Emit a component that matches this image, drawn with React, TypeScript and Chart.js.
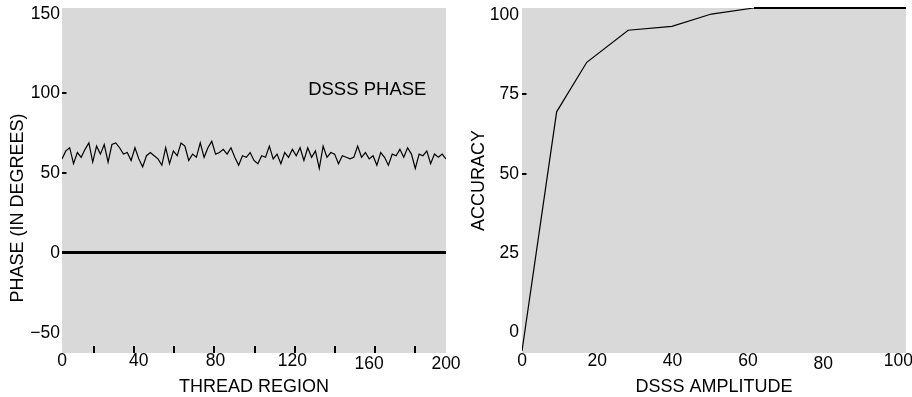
import { useEffect, useRef } from "react";
import { Chart, registerables } from "chart.js";

Chart.register(...registerables);

// ---------- data ----------
// left panel: DSSS phase (degrees) over thread region, sampled every 2 units
const threadStep = 2;
const phaseValues = [
  59, 64, 66, 56, 63, 60, 65, 69, 57, 67,
  62, 68, 57, 68, 69, 66, 62, 63, 58, 66,
  59, 54, 61, 63, 61, 59, 55, 66, 56, 64,
  61, 69, 67, 58, 62, 60, 69, 60, 66, 70,
  62, 63, 65, 62, 66, 60, 55, 61, 60, 63,
  58, 56, 61, 60, 67, 59, 62, 56, 63, 60,
  65, 61, 66, 58, 66, 60, 64, 53, 67, 60,
  63, 62, 56, 61, 60, 59, 60, 67, 60, 63,
  59, 61, 55, 63, 60, 55, 62, 61, 65, 60,
  66, 62, 53, 62, 61, 64, 56, 62, 60, 62,
  59,
];
const phaseMarkValues = [50, 100];
const regionMarkValues = [20, 40, 60, 80, 100, 120, 140, 160, 180];
const phaseLabel = { text: "DSSS PHASE", x: 159, y: 102 };

// right panel: accuracy vs DSSS amplitude
const amplitude = [0, 9.2, 17.2, 28.2, 39.8, 50.3, 61.6, 102];
const accuracy = [-5.8, 69.5, 85.1, 95.2, 96.4, 100.3, 102.2, 102.2];
const accuracyMarkValues = [50, 75];

// ---------- style ----------
const FONT = "'Liberation Sans', Arial, Helvetica, sans-serif";
const GREY = "#d9d9d9";
const INK = "#000000";
const TICK_SIZE = 17.5;
const TITLE_SIZE = 18;

Chart.defaults.font.family = FONT;
Chart.defaults.color = INK;

const minusFmt = (v: number) => (v < 0 ? "\u2212" + Math.abs(v) : String(v));

const plotBackground = {
  id: "plotBackground",
  beforeDraw(chart: any) {
    const { ctx, chartArea } = chart;
    ctx.save();
    ctx.fillStyle = GREY;
    ctx.fillRect(chartArea.left, chartArea.top, chartArea.width, chartArea.height);
    ctx.restore();
  },
};

const innerTicks = {
  id: "innerTicks",
  afterDatasetsDraw(chart: any, _args: any, opts: any) {
    const { ctx, chartArea } = chart;
    ctx.save();
    ctx.strokeStyle = INK;
    if (opts.x) {
      const s = chart.scales[opts.x.scale];
      ctx.lineWidth = opts.x.width;
      for (const v of opts.x.values) {
        const px = Math.round(s.getPixelForValue(v)) + 0.0;
        ctx.beginPath();
        ctx.moveTo(px, chartArea.bottom);
        ctx.lineTo(px, chartArea.bottom - opts.x.length);
        ctx.stroke();
      }
    }
    if (opts.y) {
      const s = chart.scales[opts.y.scale];
      ctx.lineWidth = opts.y.width;
      for (const v of opts.y.values) {
        const py = Math.round(s.getPixelForValue(v));
        ctx.beginPath();
        ctx.moveTo(chartArea.left, py);
        ctx.lineTo(chartArea.left + opts.y.length, py);
        ctx.stroke();
      }
    }
    ctx.restore();
  },
};

const textNotes = {
  id: "textNotes",
  afterDatasetsDraw(chart: any, _args: any, opts: any) {
    const { ctx, chartArea } = chart;
    ctx.save();
    ctx.fillStyle = INK;
    if (opts.note) {
      const n = opts.note;
      ctx.font = `${n.size}px ${FONT}`;
      ctx.textAlign = "center";
      ctx.textBaseline = "middle";
      ctx.fillText(n.text, chart.scales.x.getPixelForValue(n.x), chart.scales.y.getPixelForValue(n.y));
    }
    if (opts.yTitle) {
      const t = opts.yTitle;
      ctx.font = `${t.size}px ${FONT}`;
      ctx.translate(t.x, (chartArea.top + chartArea.bottom) / 2 + t.shift);
      ctx.rotate(-Math.PI / 2);
      ctx.textAlign = "center";
      ctx.textBaseline = "middle";
      ctx.fillText(t.text, 0, 0);
    }
    ctx.restore();
  },
};

const fitY = (w: number) => (s: any) => {
  s.width = w;
  s.paddingTop = 0;
  s.paddingBottom = 0;
};
const fitX = (h: number) => (s: any) => {
  s.height = h;
  s.paddingLeft = 0;
  s.paddingRight = 0;
};
const tickFont = (lowered: number[]) => (ctx: any) => ({
  family: FONT,
  size: TICK_SIZE,
  lineHeight: ctx && ctx.tick && lowered.includes(ctx.tick.value) ? 1.5 : 1.2,
});

function leftConfig(): any {
  const pts = phaseValues.map((v, i) => ({ x: i * threadStep, y: v }));
  return {
    type: "line",
    data: {
      datasets: [
        {
          data: pts,
          xAxisID: "x",
          yAxisID: "y",
          borderColor: INK,
          borderWidth: 1.2,
          pointRadius: 0,
          tension: 0,
          fill: false,
        },
      ],
    },
    options: {
      animation: false,
      responsive: false,
      layout: { padding: { top: 8, right: 24, left: 0, bottom: 0 } },
      plugins: {
        legend: { display: false },
        tooltip: { enabled: false },
        innerTicks: {
          x: { scale: "xt", values: regionMarkValues, length: 7, width: 2 },
          y: { scale: "y", values: phaseMarkValues, length: 4.5, width: 2 },
        },
        textNotes: {
          note: { ...phaseLabel, size: 18.5 },
          yTitle: { text: "PHASE (IN DEGREES)", size: TITLE_SIZE, x: 18.5, shift: 27.5 },
        },
      },
      scales: {
        x: {
          type: "linear",
          min: 0,
          max: 200,
          grid: { display: false, drawTicks: false },
          border: { display: false },
          ticks: {
            stepSize: 40,
            includeBounds: false,
            padding: -2,
            color: INK,
            maxRotation: 0,
            autoSkip: false,
            font: tickFont([160, 200]),
          },
          title: {
            display: true,
            text: "THREAD REGION",
            color: INK,
            font: { family: FONT, size: TITLE_SIZE },
            padding: { top: 0, bottom: -1 },
          },
          afterFit: fitX(44),
        },
        y: {
          type: "linear",
          min: -62.7,
          max: 153.6,
          grid: {
            display: true,
            drawTicks: false,
            color: (c: any) => (c.tick && c.tick.value === 0 ? INK : "rgba(0,0,0,0)"),
            lineWidth: (c: any) => (c.tick && c.tick.value === 0 ? 3 : 0),
          },
          border: { display: false },
          ticks: {
            stepSize: 50,
            includeBounds: false,
            padding: 2,
            color: INK,
            font: { family: FONT, size: TICK_SIZE },
            callback: (v: number) => minusFmt(v),
          },
          afterFit: fitY(62),
        },
        xt: {
          type: "linear",
          display: false,
          min: 4,
          max: 195.5,
        },
      },
    },
    plugins: [plotBackground, innerTicks, textNotes],
  };
}

function rightConfig(): any {
  const pts = amplitude.map((a, i) => ({ x: a, y: accuracy[i] }));
  const top = Math.max(...accuracy);
  const capped = pts.filter((p) => p.y >= top);
  return {
    type: "line",
    data: {
      datasets: [
        {
          data: pts,
          xAxisID: "x",
          yAxisID: "y",
          borderColor: INK,
          borderWidth: 1.2,
          pointRadius: 0,
          tension: 0,
          fill: false,
        },
        {
          data: capped,
          xAxisID: "x",
          yAxisID: "y",
          borderColor: INK,
          borderWidth: 2.2,
          pointRadius: 0,
          tension: 0,
          fill: false,
          clip: false,
        },
      ],
    },
    options: {
      animation: false,
      responsive: false,
      layout: { padding: { top: 8, right: 6, left: 0, bottom: 0 } },
      plugins: {
        legend: { display: false },
        tooltip: { enabled: false },
        innerTicks: {
          y: { scale: "y", values: accuracyMarkValues, length: 4.5, width: 2 },
        },
      },
      scales: {
        x: {
          type: "linear",
          min: 0,
          max: 102,
          grid: { display: false, drawTicks: false },
          border: { display: false },
          ticks: {
            stepSize: 20,
            includeBounds: false,
            padding: -2,
            color: INK,
            maxRotation: 0,
            autoSkip: false,
            font: tickFont([80]),
          },
          title: {
            display: true,
            text: "DSSS AMPLITUDE",
            color: INK,
            font: { family: FONT, size: TITLE_SIZE },
            padding: { top: 0, bottom: -1 },
          },
          afterFit: fitX(44),
        },
        y: {
          type: "linear",
          min: -6.46,
          max: top,
          grid: { display: false, drawTicks: false },
          border: { display: false },
          ticks: {
            stepSize: 25,
            includeBounds: false,
            padding: 3,
            color: INK,
            font: { family: FONT, size: TICK_SIZE },
            callback: (v: number) => minusFmt(v),
          },
          title: {
            display: true,
            text: "ACCURACY",
            color: INK,
            font: { family: FONT, size: TITLE_SIZE },
            padding: { top: 8, bottom: 0 },
          },
          afterFit: fitY(62),
        },
      },
    },
    plugins: [plotBackground, innerTicks, textNotes],
  };
}

export default function App() {
  const leftRef = useRef<HTMLCanvasElement>(null);
  const rightRef = useRef<HTMLCanvasElement>(null);

  useEffect(() => {
    const c1 = new Chart(leftRef.current as HTMLCanvasElement, leftConfig());
    const c2 = new Chart(rightRef.current as HTMLCanvasElement, rightConfig());
    return () => {
      c1.destroy();
      c2.destroy();
    };
  }, []);

  return (
    <div
      style={{
        position: "absolute",
        left: 0,
        top: 0,
        width: 912,
        height: 397,
        overflow: "hidden",
        background: "#ffffff",
      }}
    >
      <canvas ref={leftRef} width={470} height={397} style={{ position: "absolute", left: 0, top: 0 }} />
      <canvas ref={rightRef} width={452} height={397} style={{ position: "absolute", left: 460, top: 0 }} />
    </div>
  );
}
